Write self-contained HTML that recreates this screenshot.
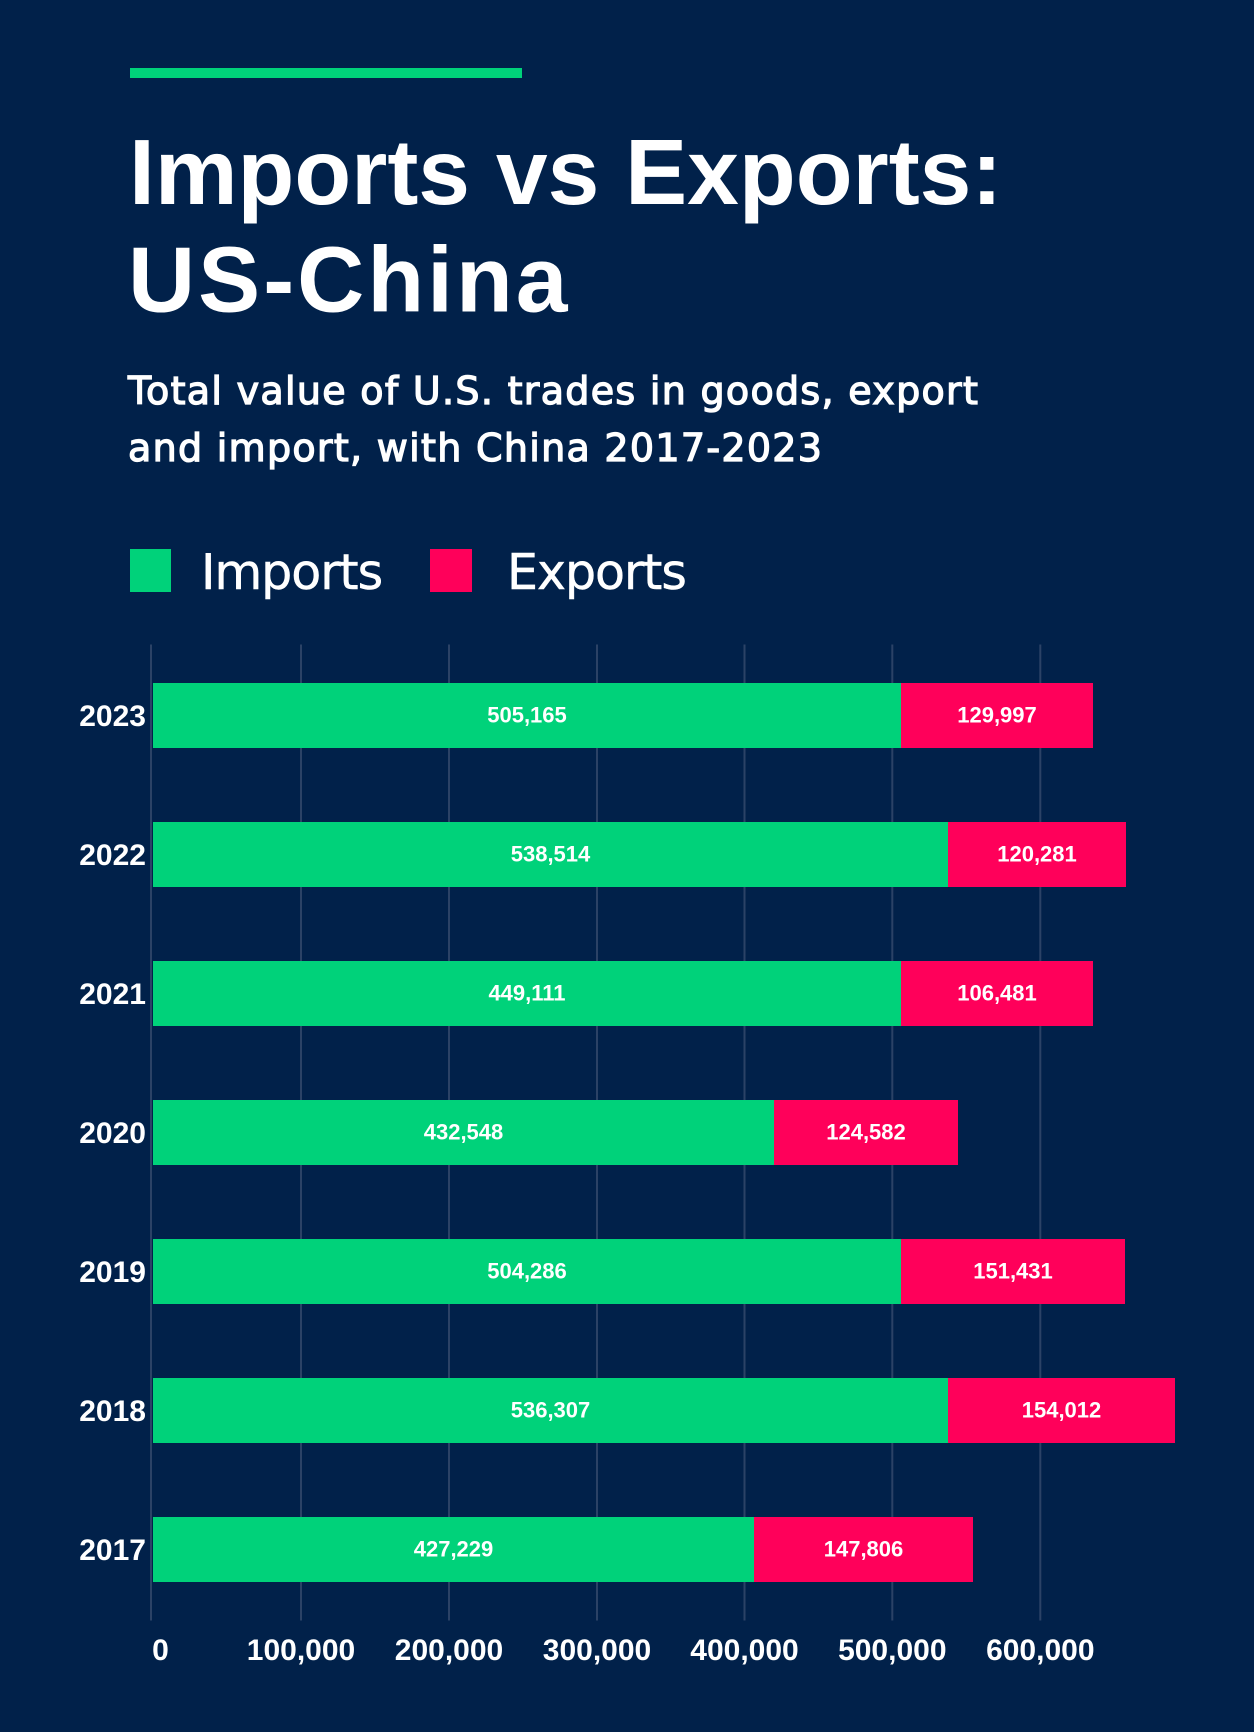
<!DOCTYPE html>
<html>
<head>
<meta charset="utf-8">
<style>
  html, body { margin: 0; padding: 0; background: #01214a; }
  body { width: 1254px; height: 1732px; overflow: hidden; }
  svg { display: block; }
</style>
</head>
<body>
<svg width="1254" height="1732" viewBox="0 0 1254 1732" xmlns="http://www.w3.org/2000/svg">
  <rect x="0" y="0" width="1254" height="1732" fill="#01214a"/>

  <!-- top accent line -->
  <rect x="130" y="68" width="392" height="10" fill="#00d27a"/>

  <!-- title -->
  <g font-family="'Liberation Sans', Arial, sans-serif" font-weight="bold" font-size="93" fill="#ffffff">
    <text x="129" y="204">Imports vs Exports:</text>
    <text x="128" y="311.5" letter-spacing="3">US-China</text>
  </g>

  <!-- subtitle -->
  <g font-family="'DejaVu Sans', sans-serif" font-size="38" fill="#ffffff" stroke="#ffffff" stroke-width="1.3" letter-spacing="1.3">
    <text x="128" y="404">Total value of U.S. trades in goods, export</text>
    <text x="128" y="461">and import, with China 2017-2023</text>
  </g>

  <!-- legend -->
  <rect x="130" y="549" width="41" height="43" fill="#00d27a"/>
  <rect x="430" y="549" width="42" height="43" fill="#ff005a"/>
  <g font-family="'DejaVu Sans', sans-serif" font-size="49" fill="#ffffff" stroke="#ffffff" stroke-width="0.5" letter-spacing="-1">
    <text x="201" y="589">Imports</text>
    <text x="507" y="589">Exports</text>
  </g>

  <!-- gridlines -->
  <g fill="#2b4266">
    <rect x="150" y="644.5" width="2" height="976"/>
    <rect x="300" y="644.5" width="2" height="976"/>
    <rect x="448" y="644.5" width="2" height="976"/>
    <rect x="596" y="644.5" width="2" height="976"/>
    <rect x="743.5" y="644.5" width="2" height="976"/>
    <rect x="891.3" y="644.5" width="2" height="976"/>
    <rect x="1039.3" y="644.5" width="2" height="976"/>
  </g>

  <!-- bars -->
  <g>
    <rect x="153" y="683" width="748" height="65" fill="#00d27a"/>
    <rect x="901" y="683" width="192" height="65" fill="#ff005a"/>
    <rect x="153" y="822" width="795" height="65" fill="#00d27a"/>
    <rect x="948" y="822" width="178" height="65" fill="#ff005a"/>
    <rect x="153" y="961" width="748" height="65" fill="#00d27a"/>
    <rect x="901" y="961" width="192" height="65" fill="#ff005a"/>
    <rect x="153" y="1100" width="621" height="65" fill="#00d27a"/>
    <rect x="774" y="1100" width="184" height="65" fill="#ff005a"/>
    <rect x="153" y="1239" width="748" height="65" fill="#00d27a"/>
    <rect x="901" y="1239" width="224" height="65" fill="#ff005a"/>
    <rect x="153" y="1378" width="795" height="65" fill="#00d27a"/>
    <rect x="948" y="1378" width="227" height="65" fill="#ff005a"/>
    <rect x="153" y="1517" width="601" height="65" fill="#00d27a"/>
    <rect x="754" y="1517" width="219" height="65" fill="#ff005a"/>
  </g>

  <!-- bar value labels -->
  <g font-family="'Liberation Sans', Arial, sans-serif" font-weight="bold" font-size="22" fill="#ffffff" text-anchor="middle">
    <text x="527" y="722.5">505,165</text>
    <text x="997" y="722.5">129,997</text>
    <text x="550.5" y="861.5">538,514</text>
    <text x="1037" y="861.5">120,281</text>
    <text x="527" y="1000.5">449,111</text>
    <text x="997" y="1000.5">106,481</text>
    <text x="463.5" y="1139.5">432,548</text>
    <text x="866" y="1139.5">124,582</text>
    <text x="527" y="1278.5">504,286</text>
    <text x="1013" y="1278.5">151,431</text>
    <text x="550.5" y="1417.5">536,307</text>
    <text x="1061.5" y="1417.5">154,012</text>
    <text x="453.5" y="1556.5">427,229</text>
    <text x="863.5" y="1556.5">147,806</text>
  </g>

  <!-- year labels -->
  <g font-family="'Liberation Sans', Arial, sans-serif" font-weight="bold" font-size="30" fill="#ffffff" text-anchor="end">
    <text x="146" y="726">2023</text>
    <text x="146" y="865">2022</text>
    <text x="146" y="1004">2021</text>
    <text x="146" y="1143">2020</text>
    <text x="146" y="1282">2019</text>
    <text x="146" y="1421">2018</text>
    <text x="146" y="1560">2017</text>
  </g>

  <!-- x-axis tick labels -->
  <g font-family="'Liberation Sans', Arial, sans-serif" font-weight="bold" font-size="30" fill="#ffffff" text-anchor="middle">
    <text x="160.5" y="1660">0</text>
    <text x="301" y="1660">100,000</text>
    <text x="449" y="1660">200,000</text>
    <text x="597" y="1660">300,000</text>
    <text x="744.5" y="1660">400,000</text>
    <text x="892.3" y="1660">500,000</text>
    <text x="1040.3" y="1660">600,000</text>
  </g>
</svg>
</body>
</html>
